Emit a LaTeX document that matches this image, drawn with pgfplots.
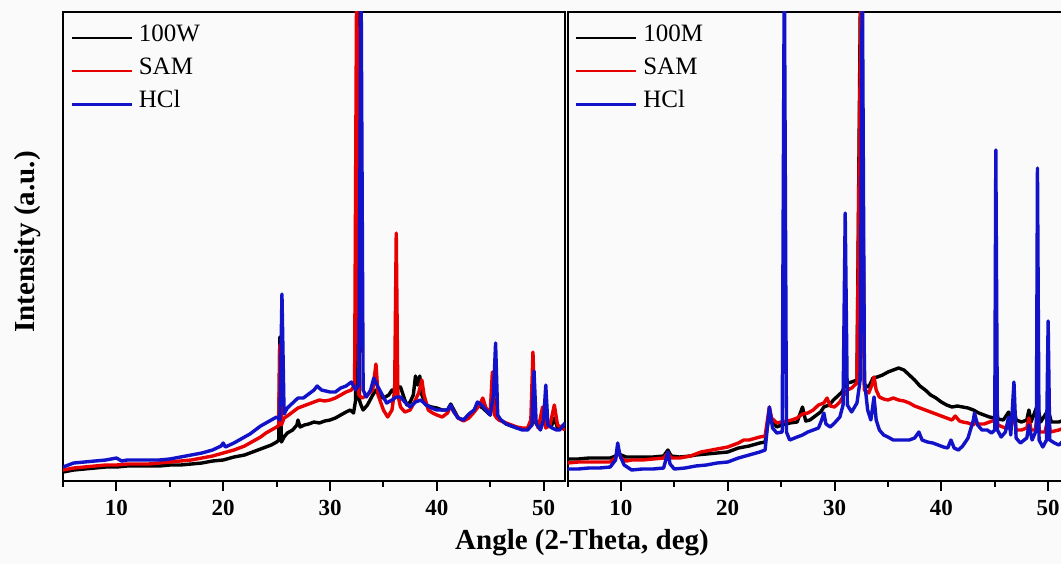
\documentclass[border=0pt]{standalone}
\usepackage{pgfplots}
\pgfplotsset{compat=1.18}
\usepackage{fontspec}
\setmainfont{Liberation Serif}
\definecolor{xred}{RGB}{232,0,0}
\definecolor{xblue}{RGB}{18,18,200}
\definecolor{bg}{RGB}{250,250,250}
\pgfplotsset{
  xrdaxis/.style={
    scale only axis, width=251pt, height=234.5pt,
    xmin=5, xmax=52, ymin=0, ymax=469,
    axis line style={line width=1pt},
    xtick={10,20,30,40,50}, minor xtick={5,15,25,35,45},
    ytick=\empty, xtick pos=bottom, tick align=outside,
    major tick length=5pt, minor tick length=3pt,
    every tick/.style={line width=1pt, black},
    /pgf/number format/assume math mode=true,
    xticklabel style={font=\fontsize{11.5}{13}\selectfont\bfseries, yshift=-1pt},
    legend image code/.code={\draw[#1,line width=1.2pt] (0pt,0pt) -- (30pt,0pt);},
    legend style={at={(axis description cs:0.014,0.981)}, anchor=north west, draw=none, fill=none,
      font=\fontsize{12.5}{14}\selectfont, row sep=0pt, inner sep=0pt,
      nodes={inner xsep=3pt, inner ysep=0pt, text height=10pt, text depth=6.6pt}},
    legend cell align=left,
    every axis plot/.append style={line width=1.7pt, line join=round, mark=none},
  }
}
\begin{document}
\begin{tikzpicture}
\fill[bg] (0,0) rectangle (530.5pt,-282pt);
\begin{axis}[xrdaxis, at={(31.5pt,-240.5pt)}, anchor=south west,
  ylabel={\fontsize{14.5}{16}\selectfont\bfseries Intensity (a.u.)},
  ylabel style={at={(axis description cs:-0.0697,0.51)}, anchor=center},
  xlabel={\fontsize{14.5}{16}\selectfont\bfseries Angle (2-Theta, deg)},
  xlabel style={at={(axis description cs:1.034,-0.132)}, anchor=center}]
\addplot[black] coordinates {
(5,9)(6,11)(7,12)(8,13)(9,14)(10,14)(11,15)(12,15)(13,15)(14,15)(15,16)(16,16)(17,17)(18,18)(19,20)(20,21)
(21,24)(22,26)(22.5,28)(23,30)(23.5,32)(24,34)(24.5,36)(25,39)(25.2,41)(25.3,144)(25.45,39)(25.7,44)(26,48)
(26.5,51)(26.9,56)(27.0,61)(27.2,54)(27.6,56)(28,57)(28.5,59)(29,58)(29.5,60)(30,61)(30.5,63)(31,66)(31.5,69)
(31.9,71)(32.2,68)(32.4,81)(32.55,520)(32.75,81)(32.9,76)(33.1,71)(33.5,76)(34.0,86)(34.3,91)(34.7,84)(35.0,83)
(35.5,86)(35.8,91)(36.0,89)(36.2,106)(36.35,93)(36.6,94)(37.0,81)(37.2,76)(37.5,79)(37.8,86)(38.0,105)(38.2,96)(38.4,105)
(38.6,86)(39.0,76)(39.5,74)(40.0,73)(40.5,71)(41.0,71)(41.3,77)(41.6,71)(42.0,63)(42.5,61)(43.0,66)(43.5,71)
(43.8,76)(44.0,75)(44.3,73)(44.7,69)(45.0,66)(45.3,86)(45.6,63)(46.0,61)(46.5,57)(47.0,55)(47.5,53)(48.0,52)
(48.5,52)(48.9,56)(49.0,91)(49.2,59)(49.6,53)(50.0,61)(50.3,56)(50.7,54)(51.0,63)(51.3,53)(52.0,56)};
\addlegendentry{100W}
\addplot[xred] coordinates {
(5,11)(6,13)(7,14)(8,15)(9,16)(10,16)(11,17)(12,17)(13,17)(14,18)(15,19)(16,20)(17,21)(18,23)(19,25)(20,28)
(21,31)(22,35)(22.5,38)(23,41)(23.5,44)(24,48)(24.5,51)(25,54)(25.2,56)(25.3,136)(25.45,56)(25.7,63)(26,65)
(26.5,69)(27,73)(27.5,75)(28,77)(28.5,79)(29,81)(29.5,80)(30,81)(30.5,83)(31,86)(31.5,89)(32,91)(32.3,96)
(32.5,520)(32.7,86)(33,83)(33.5,86)(34.0,91)(34.3,117)(34.5,86)(35,71)(35.4,64)(35.8,71)(36.05,91)(36.2,248)
(36.35,86)(36.6,74)(37,69)(37.5,71)(38,81)(38.3,88)(38.6,101)(38.8,86)(39.2,71)(39.6,68)(40,66)(40.5,64)
(41,68)(41.3,75)(41.6,69)(42,63)(42.5,60)(43,63)(43.5,69)(44,76)(44.3,83)(44.6,73)(45.0,69)(45.2,109)(45.4,66)
(45.8,61)(46.5,58)(47,56)(47.5,54)(48,53)(48.5,53)(48.8,61)(49.0,129)(49.2,61)(49.5,53)(49.9,74)(50.2,53)
(50.6,56)(51.0,76)(51.3,56)(52,51)};
\addlegendentry{SAM}
\addplot[xblue] coordinates {
(5,14)(6,18)(7,19)(8,20)(9,21)(10,23)(10.5,20)(11,21)(12,21)(13,21)(14,21)(15,22)(16,24)(17,26)(18,28)(19,31)
(19.8,35)(20,38)(20.2,34)(21,38)(22,44)(22.5,47)(23,51)(23.5,55)(24,58)(24.5,61)(25,64)(25.3,61)(25.5,187)
(25.7,67)(26,73)(26.5,78)(27,83)(27.5,83)(28,87)(28.5,91)(28.8,95)(29.2,91)(29.6,90)(30,89)(30.5,89)(31,93)
(31.5,95)(32,99)(32.4,91)(32.7,96)(32.9,520)(33.1,91)(33.4,84)(33.8,91)(34.1,103)(34.4,96)(34.8,88)(35.3,78)
(35.8,81)(36.2,84)(36.6,84)(37.0,79)(37.5,74)(38,79)(38.5,81)(39,76)(39.5,73)(40,71)(40.5,71)(41,71)(41.3,76)
(41.6,69)(42,63)(42.5,61)(43,67)(43.5,71)(43.8,79)(44.2,76)(44.6,71)(45.0,66)(45.3,86)(45.5,138)(45.7,66)
(46,61)(46.5,57)(47,55)(47.5,53)(48,51)(48.5,51)(48.9,56)(49.1,110)(49.3,58)(49.7,51)(50.0,61)(50.2,96)
(50.4,56)(50.8,53)(51.2,51)(51.5,51)(52,58)};
\addlegendentry{HCl}
\end{axis}
\begin{axis}[xrdaxis, at={(283.75pt,-240.5pt)}, anchor=south west]
\addplot[black] coordinates {
(5,22)(6,22)(7,23)(8,23)(9,23)(9.5,25)(9.75,29)(10.0,26)(10.5,24)(11,24)(12,24)(13,24)(14,25)(14.4,31)(14.7,25)
(15.5,24)(16.5,25)(17,26)(18,27)(19,28)(20,29)(21,33)(22,35)(23,38)(23.5,39)(23.9,68)(24.1,61)(24.6,54)(25,56)
(25.5,57)(25.8,58)(26.5,59)(27.0,74)(27.3,60)(27.7,61)(28.2,65)(28.7,69)(29,74)(29.5,76)(29.9,81)(30.3,85)
(30.7,89)(31.0,96)(31.2,98)(31.6,99)(32.1,101)(32.45,520)(32.8,96)(33.2,94)(33.6,103)(34,104)(34.5,106)(35,109)
(35.5,111)(36,113)(36.5,111)(37,106)(37.5,101)(38,95)(38.5,91)(39,86)(39.5,83)(40,79)(40.5,76)(41,74)(41.5,75)
(42,74)(42.5,73)(43,71)(43.5,68)(44,66)(44.5,64)(45.0,63)(45.1,76)(45.3,62)(45.8,61)(46.3,69)(46.5,61)(46.8,73)
(47.0,61)(47.5,59)(48.0,61)(48.2,71)(48.4,59)(49.0,76)(49.3,59)(50.0,71)(50.3,59)(51,59)(51.5,61)(52,61)};
\addlegendentry{100M}
\addplot[xred] coordinates {
(5,18)(6,19)(7,19)(8,19)(9,19)(9.5,23)(9.75,31)(10.0,23)(10.5,20)(11,21)(12,21)(13,22)(14,23)(14.4,28)(14.7,23)
(15.5,23)(16.5,25)(17.5,29)(18.5,31)(19.5,33)(20,34)(21,38)(21.5,41)(22,41)(23,44)(23.5,45)(23.9,74)(24.1,63)
(24.6,58)(25,59)(25.5,60)(26,61)(26.5,63)(27,67)(27.5,68)(28,71)(28.5,76)(29,78)(29.3,83)(29.6,75)(30,74)
(30.5,79)(31,88)(31.2,91)(31.6,93)(32.1,98)(32.5,520)(32.8,91)(33.2,88)(33.5,96)(33.7,104)(33.9,91)(34.2,84)
(34.6,82)(35,81)(35.5,83)(36,81)(36.5,80)(37,78)(37.5,75)(38,73)(38.5,71)(39,69)(39.5,67)(40,65)(40.5,63)
(41,61)(41.3,65)(41.7,60)(42,59)(42.5,58)(43,56)(43.2,59)(43.5,57)(44,57)(44.5,59)(45,61)(45.1,69)(45.3,56)
(46,53)(46.5,53)(46.8,69)(47.0,51)(47.5,51)(48,53)(48.2,63)(48.4,51)(48.8,51)(49.0,66)(49.2,49)(49.7,49)
(50.0,63)(50.2,49)(51,51)(51.5,53)(52,53)};
\addlegendentry{SAM}
\addplot[xblue] coordinates {
(5,12)(6,12)(7,13)(8,13)(9,14)(9.5,21)(9.7,38)(9.9,26)(10.3,16)(11,11)(12,12)(13,12)(14,13)(14.4,29)(14.6,17)
(15,12)(16,13)(17,15)(18,16)(19,18)(20,19)(21,23)(22,26)(23,29)(23.5,31)(23.9,74)(24.2,53)(24.6,48)(25.1,49)
(25.3,520)(25.5,49)(25.8,41)(26.5,44)(27,46)(27.5,49)(28,51)(28.5,53)(28.8,61)(29.0,68)(29.2,57)(29.6,54)
(30,58)(30.5,64)(30.8,76)(31.0,268)(31.2,76)(31.6,69)(32.1,78)(32.4,101)(32.6,520)(32.8,101)(33.1,71)(33.4,61)
(33.7,84)(33.9,61)(34.2,51)(34.6,46)(35,44)(35.5,41)(36,41)(36.5,41)(37,41)(37.5,43)(37.9,49)(38.2,41)
(38.7,39)(39.2,38)(39.7,36)(40.2,34)(40.6,33)(40.9,41)(41.2,33)(41.6,31)(42,35)(42.5,43)(43.0,61)(43.1,68)
(43.4,56)(43.8,51)(44.3,51)(44.7,48)(45.0,51)(45.1,331)(45.25,51)(45.6,44)(46,49)(46.3,64)(46.5,46)(46.8,99)
(47.0,43)(47.4,38)(48,43)(48.2,56)(48.5,41)(48.9,51)(49.0,313)(49.15,41)(49.5,34)(49.85,41)(50.0,160)(50.15,41)
(50.6,38)(51,36)(51.5,41)(52,51)};
\addlegendentry{HCl}
\end{axis}
\pgfresetboundingbox
\useasboundingbox (0,0) rectangle (530.5pt,-282pt);
\end{tikzpicture}
\end{document}
